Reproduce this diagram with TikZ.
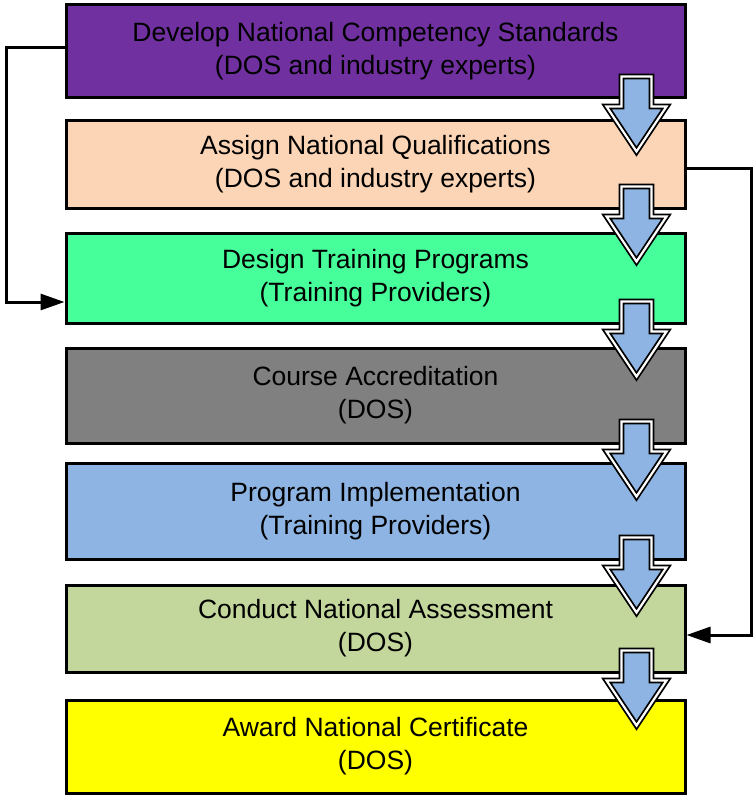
\documentclass[tikz,border=0pt]{standalone}
\usepackage{fontspec}
\setmainfont{Liberation Sans}
\usetikzlibrary{calc}
\usetikzlibrary{arrows.meta}

\definecolor{purplebox}{HTML}{7030A0}
\definecolor{peachbox}{HTML}{FBD5B5}
\definecolor{greenbox}{HTML}{47FF9A}
\definecolor{graybox}{HTML}{808080}
\definecolor{bluebox}{HTML}{8DB4E2}
\definecolor{olivebox}{HTML}{C3D69B}
\definecolor{yellowbox}{HTML}{FFFF00}

\tikzset{
    stepbox/.style={draw, line width=3pt, minimum width=619pt, align=center,
        inner sep=0pt, font=\fontsize{26.5}{33}\selectfont},
    blockarr/.style={draw=black, line width=1.8pt, double=white, double distance=2.2pt,
        fill=bluebox, line join=miter},
    conn/.style={line width=3pt, -{Triangle[length=24pt,width=16pt]}}
}

\begin{document}
\begin{tikzpicture}[x=1pt,y=-1pt]
    \useasboundingbox (0,0) rectangle (753,797);

    \node[stepbox, fill=purplebox, minimum height=93pt] (b1) at (375.5,51.5)
        {Develop National Competency Standards\\(DOS and industry experts)};
    \node[stepbox, fill=peachbox, minimum height=87pt] (b2) at (375.5,164.5)
        {Assign National Qualifications\\(DOS and industry experts)};
    \node[stepbox, fill=greenbox, minimum height=90pt] (b3) at (375.5,278)
        {Design Training Programs\\(Training Providers)};
    \node[stepbox, fill=graybox, minimum height=95pt] (b4) at (375.5,395.5)
        {Course Accreditation\\(DOS)};
    \node[stepbox, fill=bluebox, minimum height=96pt] (b5) at (375.5,511)
        {Program Implementation\\(Training Providers)};
    \node[stepbox, fill=olivebox, minimum height=87pt] (b6) at (375.5,628.5)
        {Conduct National Assessment\\(DOS)};
    \node[stepbox, fill=yellowbox, minimum height=93pt] (b7) at (375.5,746.5)
        {Award National Certificate\\(DOS)};

    % block arrows between the steps
    \foreach \a in {b1,b2,b3,b4,b5,b6}
        \draw[blockarr] ($(\a.south east)+(-65,-23)$) -- ++(30,0) -- ++(0,30) -- ++(15,0)
            -- ++(-30,45) -- ++(-30,-45) -- ++(15,0) -- cycle;

    % feedback connectors
    \draw[conn] ([yshift=3.5pt]b1.west) -- ++(-58,0) |- ([yshift=-24pt]b3.west);
    \draw[conn] ([yshift=-3.5pt]b2.east) -- ++(65,0) |- ([yshift=-6.5pt]b6.east);
\end{tikzpicture}
\end{document}
